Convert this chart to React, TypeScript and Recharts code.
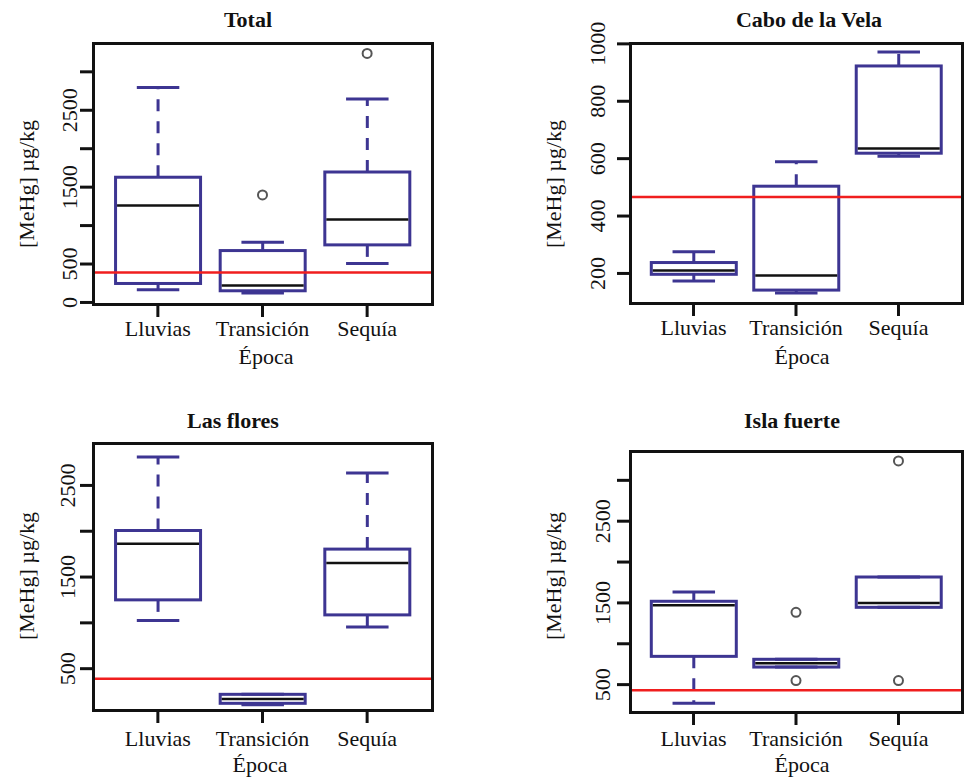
import React from 'react';
import { ComposedChart, Bar, Line, XAxis, YAxis, ReferenceLine } from 'recharts';

const FONT = '"Liberation Serif", "Times New Roman", serif';
const BOX = '#3d3592';
const LIMIT = '#f01e1e';

const categories = ['Lluvias', 'Transición', 'Sequía'];

// [whisker low, Q1, median, Q3, whisker high] for each season
const totalStats = [[165, 247, 1260, 1629, 2797], [122, 152, 221, 675, 784], [506, 749, 1078, 1697, 2645]];
const totalOutliers = [[], [1399], [3239]];
const totalLimit = 390;
const totalDomain = [-20, 3375];
const totalTicks = [0, 500, 1000, 1500, 2000, 2500, 3000];
const totalTickLabels = ['0', '500', '', '1500', '', '2500', ''];

const caboStats = [[174, 197, 210, 238, 276], [132, 142, 193, 504, 589], [608, 619, 635, 923, 972]];
const caboOutliers = [[], [], []];
const caboLimit = 466;
const caboDomain = [97, 1003];
const caboTicks = [200, 400, 600, 800, 1000];
const caboTickLabels = ['200', '400', '600', '800', '1000'];

const floresStats = [[1025, 1251, 1863, 2008, 2810], [105, 122, 169, 220, 220], [956, 1087, 1652, 1805, 2635]];
const floresOutliers = [[], [], []];
const floresLimit = 391;
const floresDomain = [49, 2963];
const floresTicks = [500, 1000, 1500, 2000, 2500];
const floresTickLabels = ['500', '', '1500', '', '2500'];

const islaStats = [[271, 846, 1471, 1520, 1633], [715, 715, 761, 810, 810], [1446, 1446, 1499, 1817, 1817]];
const islaOutliers = [[], [1385, 549], [3237, 549]];
const islaLimit = 430;
const islaDomain = [165, 3359];
const islaTicks = [500, 1000, 1500, 2000, 2500, 3000];
const islaTickLabels = ['500', '', '1500', '', '2500', ''];

const BoxShape = (props: any) => {
  const { x, y, width, height, payload } = props;
  const [lo, q1, med, q3, hi] = payload.stats;
  const top = Math.min(y, y + height);
  const bot = Math.max(y, y + height);
  const span = hi - lo;
  const py = (v: number) => (span === 0 ? top : bot - ((v - lo) / span) * (bot - top));
  const cx = x + width / 2;
  const capL = cx - width / 4;
  const capR = cx + width / 4;
  return (
    <g>
      <line x1={cx} x2={cx} y1={py(q3)} y2={py(hi)} stroke={BOX} strokeWidth={3} strokeDasharray="12 10" />
      <line x1={cx} x2={cx} y1={py(q1)} y2={py(lo)} stroke={BOX} strokeWidth={3} strokeDasharray="12 10" />
      <line x1={capL} x2={capR} y1={py(hi)} y2={py(hi)} stroke={BOX} strokeWidth={3} />
      <line x1={capL} x2={capR} y1={py(lo)} y2={py(lo)} stroke={BOX} strokeWidth={3} />
      <rect x={x} y={py(q3)} width={width} height={py(q1) - py(q3)} fill="none" stroke={BOX} strokeWidth={3} />
      <line x1={x + 1.5} x2={x + width - 1.5} y1={py(med)} y2={py(med)} stroke="#111" strokeWidth={2.5} />
    </g>
  );
};

type PanelProps = {
  left: number; top: number; w: number; h: number;
  plot: { x: number; y: number; r: number; b: number };
  tickOff: number; xdy: number;
  stats: number[][]; outliers: number[][]; limit: number;
  domain: number[]; ticks: number[]; tickLabels: string[];
};

const Panel = (p: PanelProps) => {
  const rows = categories.map((name, i) => ({
    name,
    range: [p.stats[i][0], p.stats[i][4]],
    stats: p.stats[i],
    outA: p.outliers[i][0] ?? null,
    outB: p.outliers[i][1] ?? null,
  }));
  const plotW = p.plot.r - p.plot.x;
  const pad = plotW * (1 - 3 / 3.24) / 2;
  const dot = { r: 4.5, stroke: '#555', strokeWidth: 2, fill: 'none' };
  return (
    <div style={{ position: 'absolute', left: p.left, top: p.top, width: p.w, height: p.h }}>
      <ComposedChart
        width={p.w}
        height={p.h}
        data={rows}
        margin={{ top: p.plot.y, right: p.w - p.plot.r, bottom: p.h - p.plot.b - 40, left: p.plot.x - 60 }}
      >
        <XAxis
          dataKey="name"
          padding={{ left: pad, right: pad }}
          axisLine={false}
          tickLine={{ stroke: '#111', strokeWidth: 3 }}
          tickSize={13}
          height={40}
          interval={0}
          tick={(t: any) => (
            <text x={t.x} y={t.y} dy={p.xdy} textAnchor="middle" fontSize={22} fontFamily={FONT} fill="#111">
              {t.payload.value}
            </text>
          )}
        />
        <YAxis
          type="number"
          domain={p.domain}
          ticks={p.ticks}
          allowDataOverflow
          axisLine={false}
          tickLine={{ stroke: '#111', strokeWidth: 3 }}
          tickSize={13}
          width={60}
          interval={0}
          tick={(t: any) => (
            <text
              transform={`translate(${t.x + p.tickOff},${t.y}) rotate(-90)`}
              textAnchor="middle"
              fontSize={22}
              fontFamily={FONT}
              fill="#111"
            >
              {p.tickLabels[p.ticks.indexOf(t.payload.value)]}
            </text>
          )}
        />
        <Bar dataKey="range" barSize={85} shape={BoxShape} isAnimationActive={false} />
        <Line dataKey="outA" stroke="none" dot={dot} activeDot={false} isAnimationActive={false} />
        <Line dataKey="outB" stroke="none" dot={dot} activeDot={false} isAnimationActive={false} />
        <ReferenceLine y={p.limit} stroke={LIMIT} strokeWidth={2.5} />
      </ComposedChart>
      <div
        style={{
          position: 'absolute',
          left: p.plot.x - 1.5,
          top: p.plot.y - 1.5,
          width: plotW + 3,
          height: p.plot.b - p.plot.y + 3,
          border: '3px solid #111',
          boxSizing: 'border-box',
          pointerEvents: 'none',
        }}
      />
    </div>
  );
};

const titles = [
  { x: 248, y: 27, t: 'Total' },
  { x: 809, y: 27, t: 'Cabo de la Vela' },
  { x: 233, y: 428, t: 'Las flores' },
  { x: 792, y: 428, t: 'Isla fuerte' },
];
const xLabels = [
  { x: 266, y: 364 },
  { x: 802, y: 364 },
  { x: 260, y: 772 },
  { x: 802, y: 772 },
];
const yLabels = [
  { x: 34, y: 184 },
  { x: 561, y: 184 },
  { x: 34, y: 576 },
  { x: 561, y: 576 },
];

export default function App() {
  return (
    <div style={{ position: 'absolute', left: 0, top: 0, width: 965, height: 782, background: '#fff', fontFamily: FONT }}>
      <Panel left={0} top={0} w={480} h={380} plot={{ x: 93, y: 43, r: 432, b: 304 }} tickOff={-1} xdy={17}
        stats={totalStats} outliers={totalOutliers} limit={totalLimit} domain={totalDomain} ticks={totalTicks} tickLabels={totalTickLabels} />
      <Panel left={480} top={0} w={485} h={380} plot={{ x: 150, y: 43, r: 482, b: 303 }} tickOff={-10} xdy={17}
        stats={caboStats} outliers={caboOutliers} limit={caboLimit} domain={caboDomain} ticks={caboTicks} tickLabels={caboTickLabels} />
      <Panel left={0} top={400} w={480} h={382} plot={{ x: 93, y: 43, r: 432, b: 310 }} tickOff={-3} xdy={21}
        stats={floresStats} outliers={floresOutliers} limit={floresLimit} domain={floresDomain} ticks={floresTicks} tickLabels={floresTickLabels} />
      <Panel left={480} top={400} w={485} h={382} plot={{ x: 150, y: 51, r: 482, b: 312 }} tickOff={-5} xdy={19}
        stats={islaStats} outliers={islaOutliers} limit={islaLimit} domain={islaDomain} ticks={islaTicks} tickLabels={islaTickLabels} />
      <svg width={965} height={782} style={{ position: 'absolute', left: 0, top: 0, pointerEvents: 'none' }}>
        {titles.map((d) => (
          <text key={d.t} x={d.x} y={d.y} textAnchor="middle" fontSize={22} fontWeight="bold" fontFamily={FONT} fill="#111">
            {d.t}
          </text>
        ))}
        {xLabels.map((d, i) => (
          <text key={'x' + i} x={d.x} y={d.y} textAnchor="middle" fontSize={22} fontFamily={FONT} fill="#111">
            Época
          </text>
        ))}
        {yLabels.map((d, i) => (
          <text key={'y' + i} transform={`translate(${d.x},${d.y}) rotate(-90)`} textAnchor="middle" fontSize={22} fontFamily={FONT} fill="#111">
            [MeHg] µg/kg
          </text>
        ))}
      </svg>
    </div>
  );
}
